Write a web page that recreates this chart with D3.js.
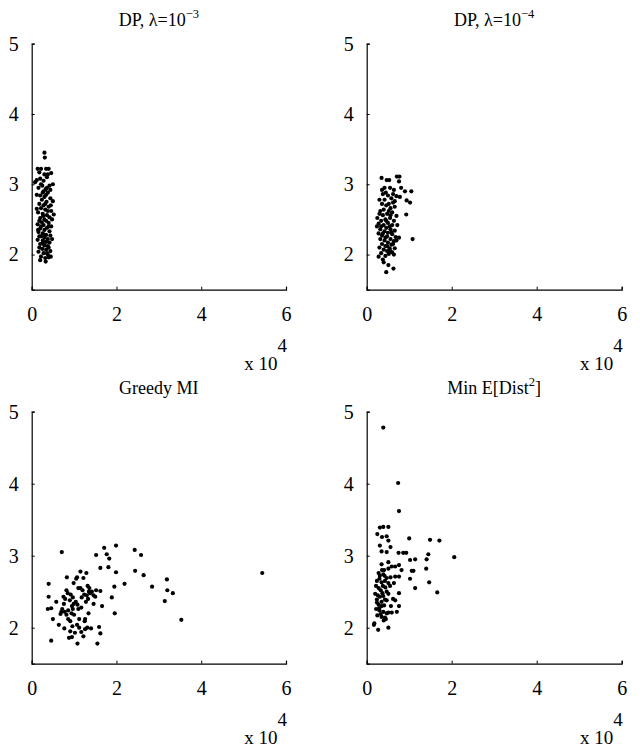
<!DOCTYPE html>
<html>
<head>
<meta charset="utf-8">
<script src="https://cdn.jsdelivr.net/npm/d3@7"></script>
<style>
  body { margin: 0; background: #fff; }
</style>
</head>
<body>
<div id="chart"></div>
<script>

var svgWidth = 640;
var svgHeight = 748;
var serif = '"Liberation Serif"';

// tick values (x axis is in units of 10^4)
var xTicks = [0, 2, 4, 6];
var yTicks = [2, 3, 4, 5];

// panel titles: [main text, superscript, text after superscript]
var titleDP3 = ["DP, \u03bb=10", "\u22123", ""];
var titleDP4 = ["DP, \u03bb=10", "\u22124", ""];
var titleGreedy = ["Greedy MI", "", ""];
var titleMinE = ["Min E[Dist", "2", "]"];

// points: [x (x10^4), y]
var dpLambda3 = [
  [0.30,3.45],[0.31,3.38],[0.14,3.22],[0.22,3.22],[0.34,3.22],[0.40,3.22],[0.46,3.16],[0.18,3.17],[0.38,3.14],[0.08,3.03],
  [0.12,3.06],[0.20,3.08],[0.28,3.05],[0.36,3.10],[0.50,3.00],[0.42,2.98],[0.25,2.98],[0.16,2.95],[0.33,2.93],[0.28,2.90],
  [0.38,2.88],[0.12,2.85],[0.20,2.84],[0.30,2.82],[0.44,2.80],[0.50,2.76],[0.24,2.78],[0.35,2.75],[0.18,2.72],[0.28,2.70],
  [0.40,2.68],[0.22,2.66],[0.32,2.64],[0.46,2.62],[0.52,2.57],[0.15,2.60],[0.26,2.58],[0.36,2.56],[0.42,2.53],[0.20,2.52],
  [0.30,2.50],[0.34,2.48],[0.24,2.46],[0.40,2.45],[0.14,2.43],[0.28,2.42],[0.46,2.40],[0.36,2.38],[0.20,2.37],[0.30,2.35],
  [0.42,2.33],[0.16,2.32],[0.26,2.30],[0.34,2.28],[0.44,2.27],[0.22,2.26],[0.30,2.24],[0.38,2.22],[0.14,2.21],[0.26,2.20],
  [0.34,2.18],[0.42,2.17],[0.20,2.15],[0.30,2.13],[0.38,2.12],[0.18,2.10],[0.25,2.08],[0.34,2.07],[0.44,2.05],[0.16,2.04],
  [0.28,2.02],[0.38,2.00],[0.45,1.97],[0.22,1.97],[0.32,1.95],[0.20,1.92],[0.33,1.90],[0.40,1.96],[0.27,2.55],[0.38,2.62],
  [0.32,2.72],[0.26,2.88],[0.44,2.92],[0.18,2.48],[0.48,2.50],[0.22,2.40],[0.40,2.40],[0.30,2.28],[0.18,2.26],[0.36,2.02],
  [0.26,2.16],[0.48,2.22],[0.36,2.95],[0.22,3.00],[0.30,3.14],[0.12,2.65],[0.45,2.70],[0.34,2.85],[0.15,2.35],[0.40,2.10]
];

var dpLambda4 = [
  [0.35,3.09],[0.47,3.06],[0.53,3.06],[0.71,3.11],[0.77,3.11],[0.76,3.04],[0.64,2.92],[0.81,2.95],[0.90,2.90],[1.05,2.90],
  [0.94,2.77],[1.02,2.74],[0.93,2.57],[1.08,2.22],[0.76,2.24],[0.78,2.82],[0.70,2.83],[0.55,2.95],[0.45,2.88],[0.38,2.86],
  [0.50,2.84],[0.58,2.80],[0.30,2.78],[0.42,2.78],[0.62,2.74],[0.52,2.72],[0.36,2.72],[0.46,2.70],[0.66,2.68],[0.56,2.66],
  [0.40,2.64],[0.32,2.62],[0.60,2.60],[0.48,2.58],[0.70,2.55],[0.38,2.56],[0.25,2.52],[0.55,2.52],[0.44,2.50],[0.64,2.48],
  [0.34,2.48],[0.50,2.45],[0.28,2.44],[0.60,2.42],[0.72,2.42],[0.40,2.42],[0.24,2.40],[0.46,2.38],[0.56,2.36],[0.32,2.36],
  [0.66,2.34],[0.42,2.33],[0.50,2.31],[0.28,2.30],[0.60,2.29],[0.36,2.27],[0.48,2.26],[0.68,2.25],[0.56,2.22],[0.32,2.22],
  [0.42,2.20],[0.64,2.19],[0.50,2.17],[0.36,2.15],[0.58,2.14],[0.44,2.12],[0.30,2.10],[0.54,2.09],[0.66,2.09],[0.40,2.07],
  [0.48,2.05],[0.60,2.03],[0.34,2.02],[0.52,2.01],[0.64,2.00],[0.28,1.97],[0.44,1.98],[0.38,1.93],[0.40,1.89],[0.51,1.85],
  [0.63,1.80],[0.46,1.75],[0.56,2.56],[0.36,2.92],[0.62,2.86],[0.46,2.48],[0.54,2.40],[0.38,2.30],[0.58,2.32],[0.44,2.24],
  [0.70,2.20],[0.52,2.62],[0.42,2.95],[0.66,2.76],[0.30,2.58],[0.48,2.12],[0.56,2.05],[0.34,2.40],[0.62,2.15]
];

var greedyMI = [
  [0.40,2.61],[0.40,2.43],[0.46,2.27],[0.38,2.26],[0.50,2.12],[0.46,1.82],[0.58,2.36],[0.71,3.05],[0.83,2.70],[0.64,2.04],
  [0.68,2.19],[0.75,2.43],[0.79,2.40],[0.82,2.52],[0.77,1.99],[0.88,1.86],[0.91,2.09],[0.91,1.95],[0.95,1.87],[0.99,2.62],
  [0.97,2.42],[0.99,2.33],[0.97,2.26],[1.07,2.70],[1.08,2.32],[1.08,1.78],[1.07,2.04],[1.15,2.78],[1.15,2.55],[1.17,2.28],
  [1.17,1.94],[1.22,2.69],[1.29,2.76],[1.26,2.12],[1.26,1.98],[1.22,1.88],[1.30,2.45],[1.33,2.40],[1.35,2.50],[1.38,2.48],
  [1.42,2.50],[1.34,2.20],[1.32,2.58],[1.40,1.99],[1.46,2.33],[1.52,3.01],[1.52,2.52],[1.50,2.43],[1.55,1.78],[1.59,2.01],
  [1.62,2.83],[1.62,2.51],[1.62,1.92],[1.66,2.30],[1.71,3.11],[1.77,3.02],[1.83,2.96],[1.81,2.84],[1.89,2.42],[1.95,2.57],
  [1.99,3.14],[1.99,2.77],[1.96,2.20],[2.19,2.61],[2.43,3.08],[2.44,2.79],[2.58,3.01],[2.64,2.73],[2.84,2.57],[3.19,2.67],
  [3.20,2.52],[3.33,2.48],[3.14,2.37],[3.53,2.11],[5.44,2.76],[0.72,2.26],[0.78,2.22],[0.82,2.18],[0.86,2.24],[0.76,2.33],
  [0.85,2.48],[0.92,2.46],[0.90,2.38],[1.00,2.18],[1.04,2.36],[0.96,2.02],[1.02,1.93],[1.10,2.26],[1.12,2.00],[1.18,2.42],
  [1.20,2.52],[1.24,2.46],[1.28,2.36],[1.12,2.12],[0.94,2.20],[0.70,2.22],[1.36,2.55],[1.25,2.09],[1.31,2.00],[1.05,2.68],
  [1.46,2.45],[1.10,2.55],[0.86,2.12],[0.95,2.30]
];

var minEDist = [
  [0.39,4.78],[0.74,4.01],[0.76,3.62],[0.31,3.39],[0.39,3.40],[0.51,3.40],[0.25,3.30],[0.36,3.26],[0.47,3.27],[0.51,3.21],
  [1.00,3.24],[1.49,3.22],[1.71,3.21],[0.31,3.14],[0.56,3.12],[0.35,3.06],[0.47,3.05],[0.75,3.04],[0.86,3.04],[0.93,3.04],
  [1.45,3.02],[2.06,2.98],[1.02,2.94],[1.14,2.95],[1.41,2.95],[0.51,2.91],[0.35,2.88],[0.59,2.85],[0.67,2.85],[0.76,2.87],
  [0.82,2.80],[1.06,2.79],[1.10,2.79],[1.40,2.82],[0.28,2.76],[0.41,2.80],[0.51,2.82],[0.67,2.71],[0.76,2.71],[1.02,2.68],
  [0.31,2.72],[0.39,2.74],[0.47,2.69],[0.24,2.65],[0.35,2.63],[0.43,2.65],[1.47,2.63],[1.14,2.55],[0.51,2.62],[0.55,2.58],
  [0.76,2.48],[1.66,2.49],[0.20,2.47],[0.31,2.43],[0.39,2.44],[0.47,2.50],[0.51,2.47],[0.24,2.39],[0.35,2.36],[0.43,2.39],
  [0.67,2.38],[0.76,2.30],[0.57,2.30],[0.71,2.22],[0.51,2.21],[0.59,2.21],[0.28,2.32],[0.35,2.30],[0.22,2.26],[0.30,2.24],
  [0.39,2.22],[0.47,2.20],[0.43,2.14],[0.35,2.15],[0.25,2.17],[0.33,2.19],[0.17,2.04],[0.18,2.06],[0.27,1.97],[0.51,2.00],
  [0.40,2.10],[0.45,2.12],[0.28,2.55],[0.38,2.58],[0.22,2.58],[0.33,2.52],[0.44,2.56],[0.26,2.45],[0.37,2.48],[0.30,2.68],
  [0.42,2.72],[0.56,2.70],[0.64,2.62],[0.24,2.35],[0.41,2.31],[0.29,2.27],[0.47,2.38],[0.62,2.40],[0.36,2.80]
];

// panel boxes in pixels
var panels = [
  { title: titleDP3,    points: dpLambda3, left: 31.7,  right: 286,   top: 43.7,  bottom: 289.7 },
  { title: titleDP4,    points: dpLambda4, left: 366.7, right: 621.7, top: 43.7,  bottom: 289.7 },
  { title: titleGreedy, points: greedyMI,  left: 31.7,  right: 286,   top: 411.7, bottom: 663.7 },
  { title: titleMinE,   points: minEDist,  left: 366.7, right: 621.7, top: 411.7, bottom: 663.7 }
];

var svg = d3.select("#chart")
  .append("svg")
  .attr("width", svgWidth)
  .attr("height", svgHeight);

panels.forEach(function(p) {

  var xScale = d3.scaleLinear().domain([0, 6]).range([p.left, p.right]);
  var yScale = d3.scaleLinear().domain([1.5, 5]).range([p.bottom, p.top]);

  var g = svg.append("g");

  // inward ticks, MATLAB style
  var bottomAxis = d3.axisBottom(xScale).tickValues(xTicks).tickSize(-3).tickPadding(12).tickFormat(d3.format("d"));
  var leftAxis = d3.axisLeft(yScale).tickValues(yTicks).tickSize(-3).tickPadding(13).tickFormat(d3.format("d"));

  var xg = g.append("g")
    .attr("transform", `translate(0, ${p.bottom})`)
    .call(bottomAxis);

  var yg = g.append("g")
    .attr("transform", `translate(${p.left}, 0)`)
    .call(leftAxis);

  [xg, yg].forEach(function(ax) {
    ax.select(".domain").attr("stroke", "#000").attr("stroke-width", 1.2);
    ax.selectAll(".tick line").attr("stroke", "#000").attr("stroke-width", 1);
    ax.selectAll(".tick text")
      .style("font-family", serif)
      .style("font-size", "20px")
      .attr("fill", "#000");
  });
  xg.selectAll(".tick text").attr("dy", "0.95em");

  // points
  g.selectAll("circle")
    .data(p.points)
    .enter()
    .append("circle")
    .attr("cx", d => xScale(d[0]))
    .attr("cy", d => yScale(d[1]))
    .attr("r", 2.1)
    .attr("fill", "#000");

  // title
  var t = g.append("text")
    .attr("x", (p.left + p.right) / 2)
    .attr("y", p.top - 18)
    .attr("text-anchor", "middle")
    .style("font-family", serif)
    .style("font-size", "18px")
    .text(p.title[0]);
  if (p.title[1]) {
    t.append("tspan").attr("dy", -8).style("font-size", "12.5px").text(p.title[1]);
    t.append("tspan").attr("dy", 8).text(p.title[2]);
  }

  // exponent label
  var e = g.append("text")
    .attr("x", p.right + 1)
    .attr("y", p.bottom + 80)
    .attr("text-anchor", "end")
    .style("font-family", serif)
    .style("font-size", "19px")
    .text("x 10");
  e.append("tspan").attr("dy", -18).text("4");
});

</script>
</body>
</html>
